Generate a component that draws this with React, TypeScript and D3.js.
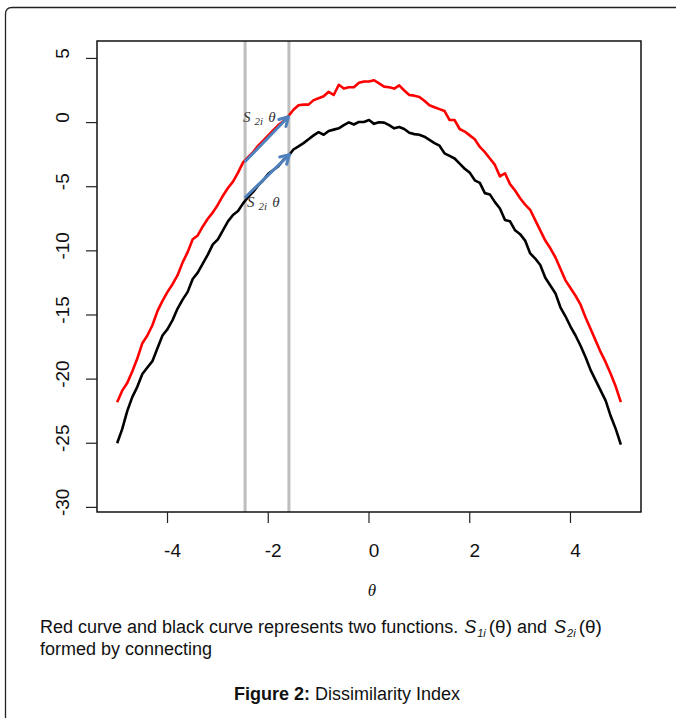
import React from "react";
import * as d3 from "d3";

// theta grid (-5 .. 5, step 0.1)
const thetas: number[] = [
  -5.0, -4.9, -4.8, -4.7, -4.6, -4.5, -4.4, -4.3, -4.2, -4.1,
  -4.0, -3.9, -3.8, -3.7, -3.6, -3.5, -3.4, -3.3, -3.2, -3.1,
  -3.0, -2.9, -2.8, -2.7, -2.6, -2.5, -2.4, -2.3, -2.2, -2.1,
  -2.0, -1.9, -1.8, -1.7, -1.6, -1.5, -1.4, -1.3, -1.2, -1.1,
  -1.0, -0.9, -0.8, -0.7, -0.6, -0.5, -0.4, -0.3, -0.2, -0.1,
  0.0, 0.1, 0.2, 0.3, 0.4, 0.5, 0.6, 0.7, 0.8, 0.9,
  1.0, 1.1, 1.2, 1.3, 1.4, 1.5, 1.6, 1.7, 1.8, 1.9,
  2.0, 2.1, 2.2, 2.3, 2.4, 2.5, 2.6, 2.7, 2.8, 2.9,
  3.0, 3.1, 3.2, 3.3, 3.4, 3.5, 3.6, 3.7, 3.8, 3.9,
  4.0, 4.1, 4.2, 4.3, 4.4, 4.5, 4.6, 4.7, 4.8, 4.9, 5.0,
];

// red curve S1i(theta)
const redValues: number[] = [
  -21.8, -20.9, -20.3, -19.4, -18.4, -17.2, -16.6, -15.8, -14.7, -13.9,
  -13.2, -12.6, -11.9, -10.9, -10.1, -9.1, -8.8, -8.1, -7.5, -7.0,
  -6.4, -5.7, -5.1, -4.6, -3.9, -3.1, -2.7, -2.3, -1.8, -1.4,
  -1.0, -0.6, -0.2, 0.1, 0.5, 1.0, 1.35, 1.4, 1.4, 1.75,
  1.9, 2.05, 2.4, 2.15, 2.95, 2.65, 2.75, 2.75, 3.1, 3.2,
  3.2, 3.3, 3.05, 2.8, 2.75, 2.65, 2.9, 2.5, 2.15, 2.1,
  2.0, 1.7, 1.35, 1.2, 1.05, 0.9, 0.2, 0.2, -0.5, -0.7,
  -1.0, -1.3, -1.9, -2.3, -2.8, -3.3, -4.2, -3.95, -4.8, -5.3,
  -5.9, -6.4, -6.8, -7.6, -8.4, -9.2, -9.8, -10.5, -11.4, -12.3,
  -12.9, -13.5, -14.2, -15.2, -16.1, -17.0, -17.9, -18.7, -19.6, -20.6, -21.8,
];

// black curve S2i(theta)
const blackValues: number[] = [
  -25.0, -23.9, -22.5, -21.4, -20.6, -19.6, -19.1, -18.6, -17.6, -16.6,
  -16.1, -15.4, -14.5, -13.8, -13.2, -12.2, -11.7, -11.0, -10.3, -9.5,
  -9.1, -8.4, -7.7, -7.2, -6.9, -6.3, -5.8, -5.4, -4.9, -4.5,
  -4.0, -3.7, -3.4, -2.9, -2.6, -2.1, -1.85, -1.6, -1.3, -1.0,
  -0.75, -0.95, -0.65, -0.55, -0.45, -0.2, 0.02, -0.15, 0.05, 0.05,
  0.2, -0.1, 0.02, 0.0, -0.2, -0.45, -0.35, -0.5, -0.8, -0.9,
  -0.95, -1.1, -1.35, -1.6, -1.8, -2.4, -2.6, -2.8, -3.2, -3.6,
  -3.9, -4.5, -4.7, -5.5, -5.6, -6.2, -6.7, -7.6, -7.7, -8.4,
  -8.7, -9.2, -10.2, -10.6, -11.1, -12.1, -12.7, -13.3, -14.4, -15.1,
  -15.9, -16.6, -17.4, -18.3, -19.3, -20.1, -20.9, -21.7, -22.9, -23.9, -25.1,
];

const xTicks: number[] = [-4, -2, 0, 2, 4];
const yTicks: number[] = [5, 0, -5, -10, -15, -20, -25, -30];
const grayLines: number[] = [-2.46, -1.59];

// arrows: [x0, y0, x1, y1] in data units
const arrowsData: number[][] = [
  [-2.45, -3.0, -1.6, 0.45],
  [-2.45, -5.8, -1.58, -2.5],
];
// annotation labels at [x, y] in data units
const labelPos: number[][] = [
  [-2.5, 0.05],
  [-2.42, -6.6],
];

const W = 676;
const H = 718;
const left = 97;
const right = 641;
const top = 41;
const bottom = 512;

export default function App() {
  const x = d3.scaleLinear().domain([-5.4, 5.4]).range([left, right]);
  const y = d3.scaleLinear().domain([-30.36, 6.36]).range([bottom, top]);

  const line = d3
    .line<number>()
    .x((_, i) => x(thetas[i]))
    .y((d) => y(d));

  const sans = "'Liberation Sans', Arial, Helvetica, sans-serif";
  const serif = "'Liberation Serif', 'DejaVu Serif', serif";
  const blue = "#4f81bd";

  const arrowHead = (a: number[]) => {
    const x0 = x(a[0]), y0 = y(a[1]), x1 = x(a[2]), y1 = y(a[3]);
    const ang = Math.atan2(y1 - y0, x1 - x0);
    const len = 10;
    const spread = Math.PI / 6;
    const p1 = [x1 - len * Math.cos(ang - spread), y1 - len * Math.sin(ang - spread)];
    const p2 = [x1 - len * Math.cos(ang + spread), y1 - len * Math.sin(ang + spread)];
    return `M${p1[0]},${p1[1]}L${x1},${y1}L${p2[0]},${p2[1]}`;
  };

  return (
    <svg
      width={W}
      height={H}
      style={{ position: "absolute", left: 0, top: 0, background: "#fff" }}
    >
      <rect x={0} y={0} width={W} height={H} fill="#fff" />
      {/* outer frame */}
      <path
        d={`M5.5,${H + 2} L5.5,14 Q5.5,7.5 12,7.5 L${W + 2},7.5`}
        fill="none"
        stroke="#222"
        strokeWidth={1.3}
      />

      <clipPath id="plotclip">
        <rect x={left} y={top} width={right - left} height={bottom - top} />
      </clipPath>

      {/* gray vertical lines */}
      {grayLines.map((g, i) => (
        <line
          key={i}
          x1={x(g)}
          x2={x(g)}
          y1={top}
          y2={bottom}
          stroke="#bebebe"
          strokeWidth={3}
        />
      ))}

      {/* curves */}
      <g clipPath="url(#plotclip)">
        <path d={line(redValues) || ""} fill="none" stroke="#ff0000" strokeWidth={2.6} strokeLinejoin="round" />
        <path d={line(blackValues) || ""} fill="none" stroke="#000" strokeWidth={2.6} strokeLinejoin="round" />
      </g>

      {/* arrows */}
      {arrowsData.map((a, i) => (
        <g key={i} stroke={blue} strokeWidth={3} fill="none" strokeLinecap="round" strokeLinejoin="round">
          <line x1={x(a[0])} y1={y(a[1])} x2={x(a[2])} y2={y(a[3])} />
          <path d={arrowHead(a)} />
        </g>
      ))}

      {/* annotations */}
      {labelPos.map((p, i) => (
        <text key={i} x={x(p[0])} y={y(p[1])} fontFamily={serif} fontStyle="italic" fontSize={15} fill="#333">
          S
          <tspan fontSize={11} dx={4} dy={3}>2i</tspan>
          <tspan fontSize={15} dx={5} dy={-3}>θ</tspan>
        </text>
      ))}

      {/* plot box */}
      <rect x={left} y={top} width={right - left} height={bottom - top} fill="none" stroke="#000" strokeWidth={1.4} />

      {/* x axis ticks */}
      {xTicks.map((t) => (
        <g key={t}>
          <line x1={x(t)} x2={x(t)} y1={bottom} y2={bottom + 11} stroke="#222" strokeWidth={1.2} />
          <text x={x(t) + 5} y={557} textAnchor="middle" fontFamily={sans} fontSize={19} fill="#111">
            {t}
          </text>
        </g>
      ))}

      {/* y axis ticks */}
      {yTicks.map((t) => (
        <g key={t}>
          <line x1={left - 11} x2={left} y1={y(t)} y2={y(t)} stroke="#222" strokeWidth={1.2} />
          <text
            transform={`translate(69,${y(t) - 5}) rotate(-90)`}
            textAnchor="middle"
            fontFamily={sans}
            fontSize={19}
            fill="#111"
          >
            {t}
          </text>
        </g>
      ))}

      {/* x axis title */}
      <text x={372} y={596} textAnchor="middle" fontFamily={serif} fontStyle="italic" fontSize={17} fill="#111">
        θ
      </text>

      {/* caption */}
      <text x={40} y={633} fontFamily={sans} fontSize={18} fill="#111">
        Red curve and black curve represents two functions.
        <tspan fontStyle="italic" dx={6}>S</tspan>
        <tspan fontStyle="italic" fontSize={11} dx={1} dy={4}>1i</tspan>
        <tspan fontSize={19} dx={3} dy={-4}>(θ)</tspan>
        <tspan dx={5}>and</tspan>
        <tspan fontStyle="italic" dx={7}>S</tspan>
        <tspan fontStyle="italic" fontSize={11} dx={1} dy={4}>2i</tspan>
        <tspan fontSize={19} dx={3} dy={-4}>(θ)</tspan>
      </text>
      <text x={40} y={655} fontFamily={sans} fontSize={18} fill="#111">
        formed by connecting
      </text>
      <text x={347} y={700} textAnchor="middle" fontFamily={sans} fontSize={18} fill="#111">
        <tspan fontWeight="bold">Figure 2:</tspan> Dissimilarity Index
      </text>
    </svg>
  );
}
